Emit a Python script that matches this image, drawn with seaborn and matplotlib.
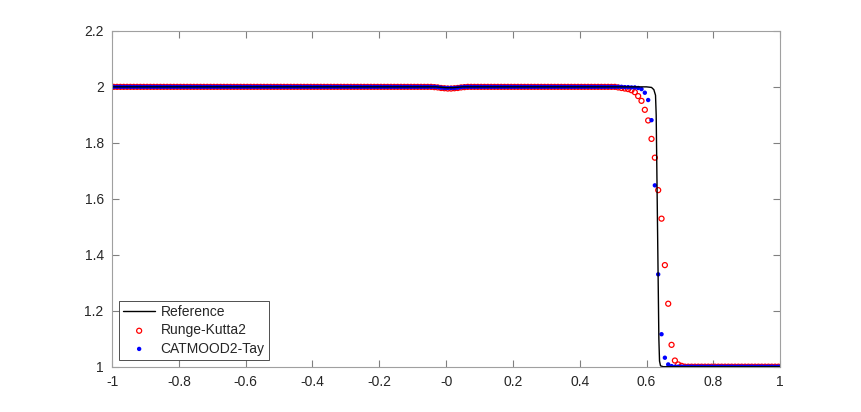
import matplotlib
matplotlib.use('Agg')
import matplotlib.pyplot as plt
import numpy as np
import pandas as pd
import seaborn as sns

# cell centres of the 200-cell mesh on [-1, 1]
x_cells = np.round(np.arange(200) * 0.01 - 0.995, 3)

# plateau states
left_state = 2.0
right_state = 1.0

# small dip around x=0 (cells -0.035 .. 0.055)
dip_x = [-0.035, -0.025, -0.015, -0.005, 0.005, 0.015, 0.025, 0.035, 0.045, 0.055]
rk2_dip = [1.999, 1.998, 1.996, 1.995, 1.994, 1.994, 1.995, 1.996, 1.998, 1.999]
cat_dip = [2.0, 1.999, 1.997, 1.996, 1.996, 1.996, 1.996, 1.997, 1.999, 2.0]

# shock region (cells 0.515 .. 0.705)
shock_x = [0.515, 0.525, 0.535, 0.545, 0.555, 0.565, 0.575, 0.585, 0.595, 0.605,
           0.615, 0.625, 0.635, 0.645, 0.655, 0.665, 0.675, 0.685, 0.695, 0.705]
rk2_shock = [1.998, 1.996, 1.994, 1.992, 1.988, 1.981, 1.967, 1.950, 1.918, 1.880,
             1.814, 1.747, 1.631, 1.529, 1.363, 1.225, 1.078, 1.022, 1.008, 1.003]
cat_shock = [2.0, 2.0, 1.999, 1.999, 1.998, 1.998, 1.996, 1.992, 1.979, 1.953,
             1.881, 1.648, 1.330, 1.116, 1.032, 1.008, 1.002, 1.0, 1.0, 1.0]

# reference solution (fine mesh), key points
ref_x = [-1.0, -0.03, 0.0, 0.02, 0.05, 0.60, 0.615, 0.622, 0.627, 0.629,
         0.631, 0.633, 0.635, 0.637, 0.639, 0.642, 0.65, 1.0]
ref_y = [2.0, 2.0, 1.997, 1.997, 2.0, 2.0, 1.998, 1.99, 1.97, 1.9,
         1.7, 1.5, 1.3, 1.1, 1.02, 1.003, 1.0, 1.0]


def build(dip, shock):
    s = pd.Series(np.where(x_cells < 0.6, left_state, right_state), index=x_cells)
    s.loc[dip_x] = dip
    s.loc[shock_x] = shock
    return s.values


df = pd.DataFrame({'x': x_cells,
                   'rk2': build(rk2_dip, rk2_shock),
                   'cat': build(cat_dip, cat_shock)})
df_ref = pd.DataFrame({'x': ref_x, 'y': ref_y})

sns.set_style('white')
plt.rcParams['font.family'] = ['Liberation Sans', 'DejaVu Sans']
plt.rcParams['axes.unicode_minus'] = False

fig = plt.figure(figsize=(8.62, 4.12), dpi=100)
ax = fig.add_axes([0.13, 0.11, 0.775, 0.815])

sns.lineplot(data=df_ref, x='x', y='y', color='black', linewidth=1.0,
             label='Reference', ax=ax, sort=False)
sns.scatterplot(data=df, x='x', y='rk2', marker='o', facecolor='none',
                edgecolor='red', s=13, linewidth=0.9, label='Runge-Kutta2', ax=ax)
sns.scatterplot(data=df, x='x', y='cat', marker='o', color='blue',
                edgecolor='none', s=10, label='CATMOOD2-Tay', ax=ax)

ax.set_xlim(-1, 1)
ax.set_ylim(1, 2.2)
ax.set_xticks(np.round(np.arange(-1, 1.01, 0.2), 1))
ax.set_yticks(np.round(np.arange(1, 2.21, 0.2), 1))
ax.set_xticklabels(['%g' % t for t in np.round(np.arange(-1, 1.01, 0.2), 1)])
ax.set_yticklabels(['%g' % t for t in np.round(np.arange(1, 2.21, 0.2), 1)])
ax.set_xlabel('')
ax.set_ylabel('')
for sp in ax.spines.values():
    sp.set_color('#a0a0a0')
    sp.set_linewidth(0.8)
ax.tick_params(direction='in', length=5, width=0.8, color='#808080',
               labelsize=10, labelcolor='#262626', top=True, right=True,
               bottom=True, left=True, pad=6)

leg = ax.legend(loc='lower left', fontsize=10, frameon=True, fancybox=False,
                borderaxespad=0.5, handlelength=2.3, handletextpad=0.4,
                borderpad=0.3, labelspacing=0.3)
leg.get_frame().set_edgecolor('#333333')
leg.get_frame().set_linewidth(0.6)
leg.get_frame().set_alpha(1)

fig.savefig('out.png', dpi=100)
